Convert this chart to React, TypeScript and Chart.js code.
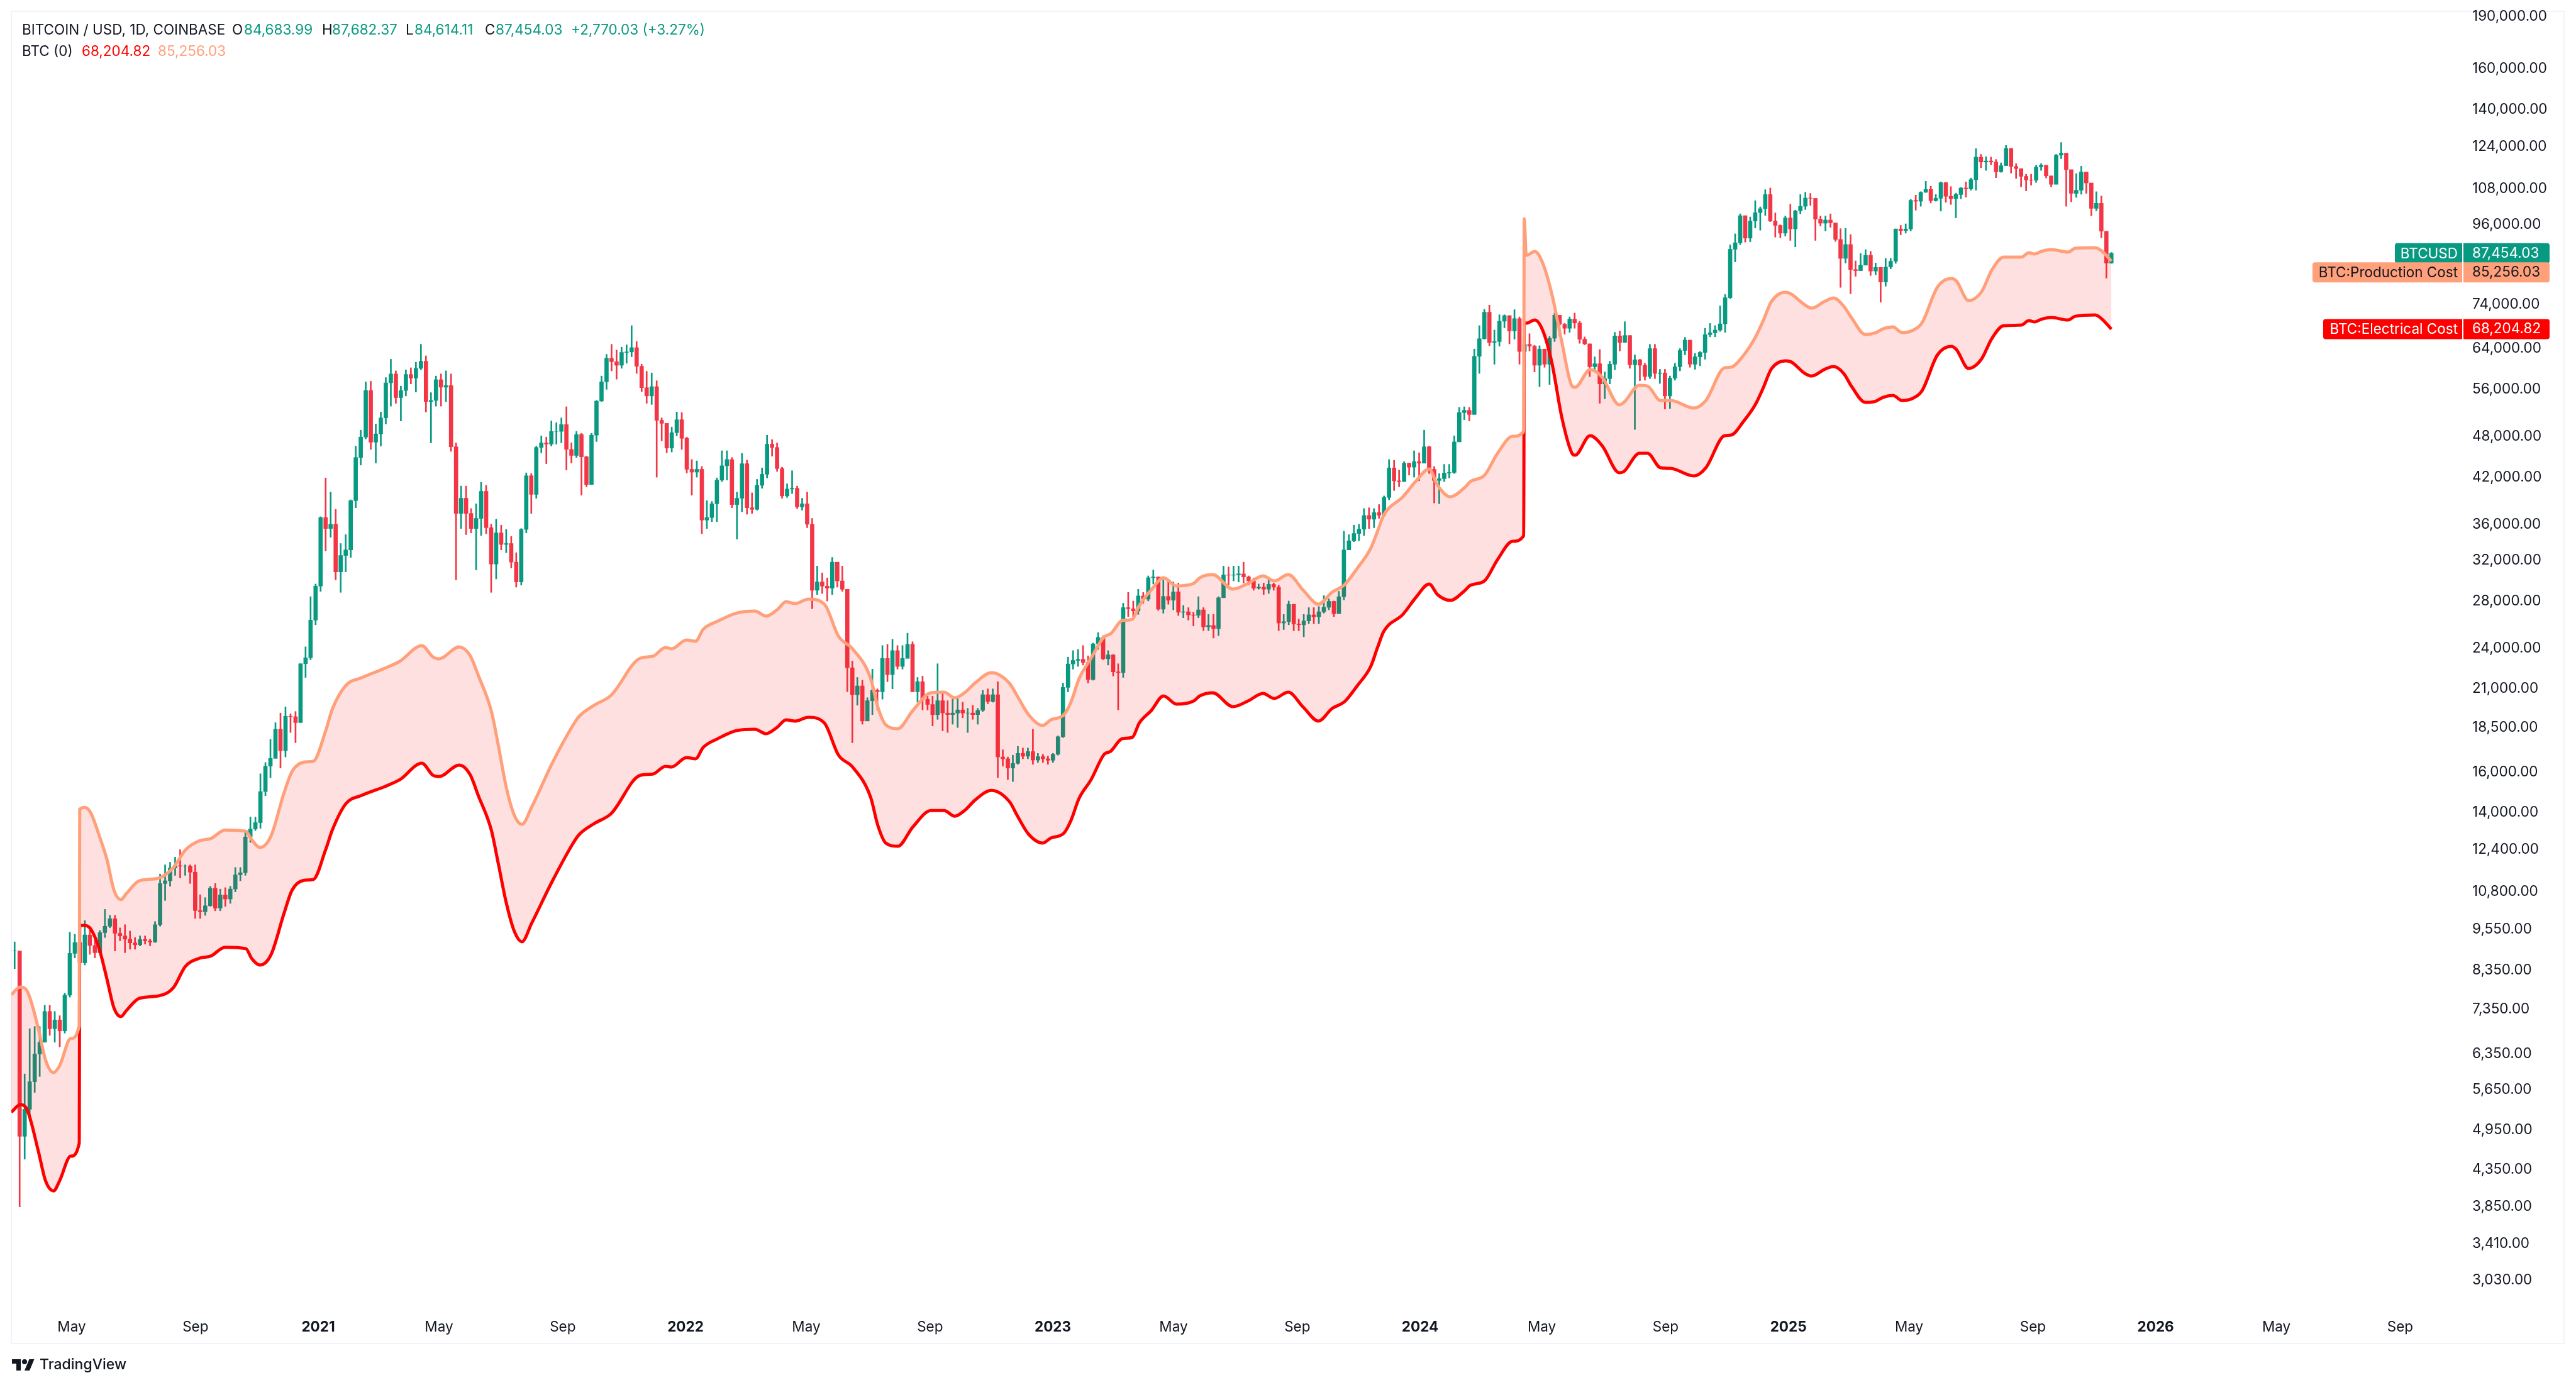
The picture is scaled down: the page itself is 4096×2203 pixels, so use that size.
import React, { useEffect, useRef } from 'react';
import { Chart, registerables } from 'chart.js';

Chart.register(...registerables);

const W = 4096;
const H = 2203;

// axis labels
const priceTicks = [190000, 160000, 140000, 124000, 108000, 96000, 74000, 64000, 56000, 48000, 42000, 36000, 32000, 28000, 24000, 21000, 18500, 16000, 14000, 12400, 10800, 9550, 8350, 7350, 6350, 5650, 4950, 4350, 3850, 3410, 3030];
const timeLabels = ['May', 'Sep', '2021', 'May', 'Sep', '2022', 'May', 'Sep', '2023', 'May', 'Sep', '2024', 'May', 'Sep', '2025', 'May', 'Sep', '2026', 'May', 'Sep'];
const timeDays = [60, 183, 305, 425, 548, 670, 790, 913, 1035, 1155, 1278, 1400, 1521, 1644, 1766, 1886, 2009, 2131, 2251, 2374];

// cost model lines (days since the left edge)
const lineDays = [0, 9, 16, 27, 34, 42, 48, 59, 67.5, 68, 73, 79, 87.5, 95, 102, 109, 114, 127, 146, 161, 173, 187.5, 198, 212.5, 233, 239, 247, 258, 271, 279, 292, 300, 312.5, 319, 332.5, 348, 371, 386, 408, 419, 425, 445, 456, 464, 477, 484, 492, 500, 507.5, 517, 537.5, 558, 564, 579, 596, 625, 637.5, 650, 656, 671, 680, 687.5, 702, 721, 739, 750, 761, 770, 779, 792, 808, 822, 836, 854, 861, 869, 881, 896, 914, 927, 937.5, 948, 958, 974, 992, 1000, 1011, 1025, 1033, 1046, 1053, 1061, 1073, 1086, 1092.5, 1104, 1114, 1121, 1133, 1145, 1158, 1175, 1181, 1194, 1214, 1229, 1244, 1255, 1269, 1284, 1299, 1312.5, 1325, 1337.5, 1351, 1357.5, 1364, 1383, 1396, 1409, 1417.5, 1430, 1444, 1450, 1464, 1477, 1492, 1503, 1503.5, 1505.5, 1514, 1522, 1531, 1541, 1551, 1554, 1569, 1581, 1598, 1602.5, 1618, 1626, 1639, 1649, 1672, 1684, 1702.5, 1709, 1722, 1733, 1741, 1749, 1763, 1768, 1782.5, 1789, 1802.5, 1811, 1821, 1829, 1842.5, 1853, 1860, 1870, 1879, 1889, 1899, 1914, 1928, 1933, 1945, 1958, 1968, 1980, 1997.5, 2005, 2011, 2017, 2027.5, 2044, 2051, 2071, 2078, 2087];
const electricalCost = [5248, 5380, 5280, 4610, 4193, 4057, 4193, 4544, 4744, 9678, 9678, 9559, 8950, 8121, 7386, 7177, 7311, 7618, 7681, 7890, 8462, 8695, 8749, 9006, 8968, 8677, 8497, 8785, 10065, 10859, 11222, 11245, 12415, 13225, 14419, 14812, 15246, 15594, 16459, 15820, 15755, 16358, 15853, 14812, 13225, 11840, 10402, 9481, 9173, 9738, 11176, 12646, 13016, 13500, 13952, 15820, 15886, 16291, 16258, 16767, 16699, 17329, 17836, 18321, 18396, 18132, 18510, 18972, 18896, 19130, 18779, 16905, 16258, 14720, 13445, 12673, 12543, 13362, 14097, 14097, 13837, 14126, 14599, 15058, 14509, 13837, 13043, 12673, 12883, 13089, 13639, 14660, 15594, 16940, 17116, 17836, 17909, 18779, 19568, 20517, 19974, 20180, 20517, 20728, 19809, 20180, 20684, 20350, 20769, 19768, 18896, 19689, 20139, 21208, 22601, 23992, 25358, 26808, 28345, 29597, 28580, 28056, 28934, 29475, 29901, 32068, 34047, 34684, 69546, 69546, 70273, 67860, 61088, 50972, 45416, 45135, 48111, 46554, 42608, 42783, 45416, 45416, 43314, 43224, 42172, 43314, 48111, 48211, 50546, 53220, 56262, 59846, 61474, 61345, 58991, 58502, 59846, 60341, 58991, 56494, 53661, 53882, 54552, 54890, 53993, 54328, 55801, 62628, 64460, 63795, 59968, 61861, 66069, 68980, 69122, 70122, 69838, 70413, 70848, 70273, 71140, 71432, 70413, 68204.82];
const productionCost = [7713, 7906, 7792, 6887, 6226, 5975, 6112, 6678, 6973, 14155, 14243, 13981, 12963, 12011, 10859, 10531, 10725, 11198, 11292, 11694, 12389, 12777, 12857, 13225, 13171, 12804, 12491, 12963, 14934, 16017, 16528, 16563, 18321, 19649, 21244, 21777, 22461, 22977, 24190, 23309, 23166, 24091, 23406, 21959, 19528, 17436, 15183, 13867, 13474, 14243, 16459, 18625, 19170, 19892, 20558, 23215, 23358, 24041, 23943, 24640, 24539, 25515, 26210, 26921, 27088, 26644, 27201, 27939, 27767, 28172, 27710, 24947, 23943, 21731, 19809, 18665, 18434, 19568, 20728, 20769, 20388, 20769, 21421, 22141, 21377, 20473, 19288, 18625, 18972, 19288, 20097, 21687, 23215, 24899, 25152, 26263, 26370, 27594, 29053, 30212, 29414, 29658, 30212, 30523, 29113, 29658, 30399, 29901, 30523, 28994, 27710, 28815, 29536, 31156, 33282, 35115, 37115, 39394, 41484, 43138, 40886, 39394, 40550, 41395, 42258, 45416, 48011, 48807, 97903, 86879, 87955, 84585, 76459, 65254, 56609, 56379, 59723, 58265, 53220, 53661, 56738, 56609, 53993, 53993, 52672, 53993, 60090, 60219, 62750, 66340, 70122, 74590, 76941, 76618, 73825, 73064, 74749, 75525, 73524, 70706, 67026, 67442, 68263, 68697, 67442, 67860, 69706, 78218, 80502, 79843, 74900, 77092, 82685, 86346, 86346, 87598, 87230, 87955, 88508, 87773, 88867, 89052, 87955, 85256.03];

// price bars, one for every five days
const firstCandleDay = -1.7;
const candleStep = 4.985;
const candleCloses = [
  8900, 8900, 4850, 5300, 5800, 6350, 6600, 7300, 6900, 7100, 6850, 7700, 8830, 9150, 8560, 9380, 9060, 8850, 9450, 9650, 9890, 9430, 9350, 9250, 9140, 9080, 9240, 9200, 9160, 9700, 11100, 11200, 11680, 11770, 11750, 11750, 11520, 10160, 10120, 10320, 10930, 10240, 10690, 10550, 10900, 11420, 11500, 12930, 13270, 13550, 15000, 16300, 16720, 18400, 17150, 19200, 19170, 18800, 22800, 23250, 26300, 29400,
  36800, 35500, 36000, 30800, 32500, 33100, 38900, 44800, 47900, 55800, 47100, 48400, 51000, 57200, 58900, 54500, 55800, 58800, 58100, 60000, 61400, 53800, 54000, 57800, 56400, 56700, 46400, 37300, 39200, 37300, 35500, 36700, 40100, 35600, 31600, 35000, 33700, 33800, 31800, 29800, 35400, 42200, 39700, 46300, 47000, 46800, 48800, 48800, 49900, 46000, 45100, 48300, 44900, 41000, 48200, 53900, 57400, 62000, 61300, 60600, 63200, 63300, 64200, 60400, 56300, 54800, 56500, 50600, 50100, 46200, 48600, 50700, 47700,
  43100, 42700, 43100, 36500, 36800, 38500, 41600, 43600, 44500, 38400, 39200, 43900, 38000, 37800, 40900, 42400, 46800, 46300, 43200, 39500, 40400, 40500, 38100, 38500, 36000, 29000, 29800, 29400, 29200, 31800, 29900, 29100, 22500, 20600, 21200, 18900, 20200, 20900, 20800, 23200, 22000, 23800, 22600, 23200, 24300, 20800, 21500, 20300, 19950, 19300, 20200, 19400, 19300, 19400, 19600, 19400, 19400, 19300, 19570, 20600, 20150, 20600, 16800, 16700, 16200, 16450, 17000, 16840, 17100, 16630, 16820, 16700, 16620,
  16950, 17950, 21100, 22780, 23050, 23130, 22900, 21650, 24330, 24850, 23170, 23470, 22200, 22150, 27400, 27300, 27100, 28470, 28170, 30220, 30300, 27260, 28420, 28070, 28850, 26990, 27030, 26750, 26720, 27200, 25730, 25850, 25580, 28300, 30500, 30470, 30500, 30600, 30300, 29900, 29200, 29300, 29100, 29570, 29300, 26050, 26170, 27700, 25970, 25900, 26230, 26760, 26580, 27030, 27430, 27970, 26860, 28400, 33100, 34100, 34930, 35430, 37050, 36600, 37400, 37080, 39300, 43300, 41500, 41400, 43970, 43400, 44200,
  43970, 46400, 43100, 41550, 41800, 42580, 42660, 47140, 51900, 52280, 51570, 62400, 66100, 72100, 65300, 65500, 70000, 71300, 67800, 70600, 63400, 64900, 64500, 60600, 63900, 60800, 66200, 71400, 69300, 68400, 70500, 69600, 66000, 65000, 60300, 60900, 57000, 58000, 60800, 66700, 65300, 66800, 60700, 61700, 60600, 58400, 64000, 59000, 59100, 54800, 58100, 60300, 63600, 65800, 60800, 62300, 63200, 67000, 67400, 68000, 69400, 75600, 88600, 90500, 98900, 91900, 97200, 99900, 101200, 106000, 97200, 95800, 93400,
  98200, 94700, 100500, 102000, 104800, 104700, 97800, 96500, 97500, 96600, 91500, 86000, 90000, 82900, 82600, 84100, 86900, 82500, 83500, 79600, 83600, 85200, 94700, 94200, 94700, 104000, 103700, 106800, 107800, 103900, 104700, 110200, 105400, 104600, 106000, 108300, 108000, 111300, 119800, 117900, 118300, 117900, 114200, 116500, 123300, 116200, 115400, 112500, 111200, 111100, 116000, 116700, 112700, 109600, 120600, 121400, 115000, 106400, 107500, 114100, 110100, 101300, 103000, 94000, 84683.99, 87454.03,
];
const candleHighs = [
  9190, 9170, 8000, 5950, 6900, 6950, 6950, 7450, 7450, 7300, 7200, 7750, 9460, 9400, 10060, 9830, 9600, 9320, 9520, 10200, 10000, 10000, 9600, 9700, 9500, 9300, 9350, 9350, 9250, 9800, 11450, 11800, 11900, 12100, 12400, 11800, 11800, 11800, 10700, 10600, 11000, 11100, 10900, 10950, 11000, 11700, 11700, 13200, 13800, 13800, 15900, 16500, 17800, 18800, 19400, 19800, 19350, 19500, 22800, 24100, 28400, 29600,
  36900, 41900, 40000, 37800, 33800, 34800, 39000, 46500, 49000, 57400, 57500, 50000, 52000, 58200, 61800, 59500, 56600, 59700, 60100, 61200, 64900, 62500, 55400, 58500, 58900, 59500, 58900, 47000, 40800, 40800, 37900, 38500, 41300, 40900, 36000, 36600, 35900, 35400, 34600, 32800, 35500, 42600, 42500, 46500, 48100, 47900, 50500, 50200, 51000, 52900, 47000, 48800, 48500, 45000, 48500, 54000, 58500, 62800, 64900, 63700, 64300, 64800, 69000, 65500, 60800, 59400, 59100, 57600, 51000, 50000, 49500, 52000, 51900,
  47900, 44500, 44300, 43500, 38900, 38800, 41900, 45800, 45800, 44800, 40000, 45400, 44400, 39900, 41700, 43300, 48200, 47500, 47000, 43400, 41100, 42900, 40800, 39200, 40000, 36700, 31400, 30700, 30200, 32300, 31700, 31400, 28500, 23000, 21800, 21600, 20400, 22400, 21000, 24200, 24300, 24700, 24200, 24200, 25200, 24500, 21800, 21900, 20500, 20500, 22800, 20800, 20200, 20300, 20400, 20100, 19700, 19900, 19700, 20900, 21000, 21000, 21500, 17200, 16800, 16900, 17400, 17300, 17300, 18400, 17000, 16950, 16850,
  17000, 18000, 21400, 23300, 23800, 23900, 24200, 23400, 24400, 25250, 25000, 23800, 23500, 22800, 27800, 28800, 28000, 29100, 28800, 30400, 31000, 30300, 30000, 29900, 29800, 29700, 27600, 27400, 27000, 28400, 27400, 26800, 26800, 28400, 31400, 31300, 31400, 31400, 31800, 30400, 30200, 29600, 29700, 30200, 29700, 29500, 26800, 28000, 27500, 26400, 26800, 27400, 27400, 27500, 28500, 28200, 28000, 28900, 35200, 34800, 35900, 36000, 37900, 38000, 37900, 38400, 39500, 44500, 44400, 43000, 44200, 44000, 45800,
  45500, 49000, 46500, 43500, 42500, 43800, 43800, 48100, 52800, 52900, 52800, 63900, 69000, 72800, 73800, 68000, 71500, 71500, 71300, 72700, 71000, 65500, 67200, 64700, 64600, 63500, 66600, 71900, 71000, 69500, 71000, 71900, 70000, 66500, 65000, 62300, 63800, 59300, 61400, 67500, 67800, 69900, 66800, 62700, 61800, 61000, 64900, 64900, 59800, 59800, 58500, 61000, 64000, 66400, 65000, 63000, 63400, 68400, 69500, 69000, 73600, 76400, 89900, 93200, 99500, 98900, 98500, 103900, 101800, 107700, 108300, 99800, 96000,
  98800, 102700, 100700, 106000, 106800, 106400, 102500, 98800, 98800, 99500, 96500, 94800, 94900, 93000, 85300, 87400, 88500, 88000, 84700, 83500, 86000, 86000, 94700, 95800, 96300, 104300, 105800, 107000, 110700, 108900, 106000, 110500, 110400, 108800, 106500, 108500, 110500, 111900, 123200, 120900, 120000, 119800, 118900, 117600, 124500, 118500, 117300, 113500, 113300, 113300, 116700, 117300, 115900, 112100, 120900, 125700, 116000, 113600, 113500, 116300, 111200, 106800, 107000, 105500, 93800, 87682.37,
];
const candleLows = [
  8500, 8400, 3850, 4500, 5100, 5600, 5900, 6600, 6750, 6600, 6500, 6800, 7650, 8700, 8100, 8500, 8800, 8700, 8900, 9300, 9600, 8900, 9200, 8850, 8950, 8950, 9050, 9100, 9050, 9150, 9650, 10500, 11000, 11400, 11300, 11400, 11100, 9900, 9900, 10000, 10300, 10150, 10150, 10300, 10400, 10800, 11200, 11400, 12700, 13200, 13300, 14800, 15700, 17000, 16200, 16800, 18200, 17600, 18900, 21800, 23100, 25900,
  28900, 33000, 34500, 30000, 28800, 30800, 32300, 38000, 43700, 47600, 46000, 44000, 46500, 50000, 53000, 53500, 50500, 54800, 57000, 55500, 59700, 52000, 47000, 53000, 53000, 53800, 45700, 30000, 35500, 34800, 35000, 31000, 34700, 34900, 28800, 30100, 33100, 32800, 31200, 29300, 29500, 35000, 37300, 39200, 45500, 43900, 46500, 46800, 47000, 43000, 44000, 44800, 39600, 40700, 41000, 47200, 53800, 56000, 59500, 57900, 60000, 61000, 62300, 59000, 55600, 53500, 53300, 42000, 47300, 45500, 45600, 48100, 46000,
  42600, 39600, 42000, 34900, 35500, 36300, 36300, 41400, 41600, 38000, 34300, 37500, 37200, 37300, 37700, 40500, 41900, 45000, 42800, 39200, 39300, 39800, 37900, 37700, 35600, 27300, 28600, 28700, 28000, 28600, 29300, 28900, 20800, 17600, 19900, 18700, 19000, 19300, 19600, 20300, 21500, 21000, 22400, 22400, 23700, 20800, 20100, 19600, 19600, 18600, 19000, 18300, 18200, 18700, 18500, 19100, 18200, 19000, 18700, 19500, 20000, 20100, 15700, 16300, 15600, 15500, 16400, 16700, 16700, 16400, 16500, 16500, 16400,
  16500, 16900, 17900, 20800, 22400, 22600, 22700, 21400, 21600, 23900, 23100, 22700, 21900, 19600, 21800, 26600, 26600, 26800, 27800, 28000, 29600, 27150, 26900, 27700, 27200, 26700, 26500, 26300, 25800, 26500, 25400, 25400, 24800, 25000, 28300, 29500, 29900, 29800, 29700, 29500, 29000, 29100, 28600, 28700, 29000, 25400, 25500, 25900, 25400, 25400, 24900, 26000, 26000, 26000, 26900, 27200, 26600, 26900, 28100, 33400, 34000, 34100, 34700, 35500, 35600, 36700, 37000, 39000, 40200, 40700, 41400, 42300, 42000,
  41500, 44300, 42500, 38600, 38500, 41400, 41900, 42500, 47500, 50700, 50500, 52000, 59000, 66000, 64600, 60800, 64500, 68500, 65000, 66000, 60800, 59700, 63500, 59300, 56500, 60200, 56900, 65500, 66700, 67100, 67500, 68400, 65100, 64800, 58400, 59800, 53500, 54300, 57000, 59700, 63500, 65300, 60000, 49100, 57600, 57700, 58000, 58000, 57100, 52500, 52600, 57700, 59500, 62700, 60200, 59800, 60500, 61800, 66500, 66500, 67700, 67500, 75400, 85000, 90000, 90700, 90800, 95000, 94300, 99000, 97000, 92200, 92000,
  92500, 91200, 89300, 99500, 100900, 102300, 91200, 95600, 94100, 95200, 90900, 78200, 84700, 76600, 81100, 83000, 85100, 81300, 81500, 74500, 78500, 83100, 84600, 92900, 93400, 94100, 100700, 102000, 106700, 103100, 103700, 100400, 103300, 102600, 98200, 104500, 105100, 107500, 107500, 115700, 114700, 116900, 112000, 114000, 116500, 113700, 111700, 108700, 107300, 109300, 110300, 114700, 111900, 108700, 111000, 119200, 102000, 103500, 105000, 106100, 106400, 98900, 100500, 92000, 80600, 84614.11,
];

const GREEN = '#089981';
const RED = '#f23645';
const ORANGE = '#ffa07a';
const DARK = '#131722';
const FONT = 'Inter';

const candleDay = (i: number) => firstCandleDay + i * candleStep;
const candleOpen = (i: number) => (i === 0 ? candleCloses[0] : candleCloses[i - 1]);
const candleColors = candleCloses.map((c, i) => (c >= candleOpen(i) ? GREEN : RED));

const fmt = (v: number) => v.toLocaleString('en-US', { minimumFractionDigits: 2, maximumFractionDigits: 2 });

// legend rows top left
const legendRows: [string, number, number, string][] = [
  ['BITCOIN / USD, 1D, COINBASE', 35, 48, DARK],
  ['O', 369, 48, DARK],
  ['84,683.99', 388, 48, GREEN],
  ['H', 512, 48, DARK],
  ['87,682.37', 528, 48, GREEN],
  ['L', 645, 48, DARK],
  ['84,614.11', 659, 48, GREEN],
  ['C', 771, 48, DARK],
  ['87,454.03', 788, 48, GREEN],
  ['+2,770.03 (+3.27%)', 908, 48, GREEN],
  ['BTC (0)', 35, 82, DARK],
  ['68,204.82', 130, 82, '#ff0000'],
  ['85,256.03', 251, 82, ORANGE],
];

// last value tags on the price axis: name, value, colour, text colour, left edge, shift
const priceTags: [string, number, string, string, number, number][] = [
  ['BTCUSD', 87454.03, GREEN, '#ffffff', 3808, 0],
  ['BTC:Production Cost', 85256.03, ORANGE, DARK, 3677, 18],
  ['BTC:Electrical Cost', 68204.82, '#ff0000', '#ffffff', 3694, 0],
];

const roundRect = (ctx: CanvasRenderingContext2D, x: number, y: number, w: number, h: number, r: [number, number, number, number]) => {
  ctx.beginPath();
  ctx.roundRect(x, y, w, h, r);
  ctx.fill();
};

const tvFrame = {
  id: 'tvFrame',
  beforeDraw(chart: Chart) {
    const ctx = chart.ctx;
    ctx.save();
    ctx.fillStyle = '#ffffff';
    ctx.fillRect(0, 0, W, H);
    ctx.strokeStyle = '#f0f3fa';
    ctx.lineWidth = 2;
    ctx.strokeRect(18, 18, 4059, 2119);
    ctx.restore();
  },
  afterDraw(chart: Chart) {
    const ctx = chart.ctx;
    const y = chart.scales.y;
    ctx.save();
    ctx.textBaseline = 'middle';
    ctx.font = `22.5px ${FONT}`;
    legendRows.forEach(([t, lx, ly, c]) => {
      ctx.fillStyle = c;
      ctx.fillText(t, lx, ly);
    });
    priceTags.forEach(([name, value, bg, fg, left, shift]) => {
      const cy = y.getPixelForValue(value) + shift;
      ctx.fillStyle = bg;
      roundRect(ctx, left, cy - 16, 3915 - left, 32, [4, 0, 0, 4]);
      roundRect(ctx, 3917, cy - 16, 137, 32, [0, 4, 4, 0]);
      ctx.fillStyle = fg;
      ctx.textAlign = 'right';
      ctx.fillText(name, 3908, cy + 1);
      ctx.textAlign = 'left';
      ctx.fillText(fmt(value), 3931, cy);
    });
    // TradingView mark
    ctx.save();
    ctx.translate(19, 2158);
    ctx.fillStyle = DARK;
    ctx.fill(new Path2D('M14 22H7V11H0V4h14v18zM28 22h-8l7.5-18h8L28 22z'));
    ctx.beginPath();
    ctx.arc(20, 8, 4, 0, Math.PI * 2);
    ctx.fill();
    ctx.restore();
    ctx.fillStyle = DARK;
    ctx.font = `500 23px ${FONT}`;
    ctx.fillText('TradingView', 63, 2171);
    ctx.restore();
  },
};

const App: React.FC = () => {
  const chartRef = useRef<HTMLCanvasElement>(null);
  const chartInstanceRef = useRef<Chart | null>(null);

  useEffect(() => {
    document.body.style.margin = '0';
    if (chartRef.current) {
      const ctx = chartRef.current.getContext('2d');
      if (ctx) {
        chartInstanceRef.current = new Chart(ctx, {
          type: 'bar',
          plugins: [tvFrame],
          data: {
            datasets: [
              {
                label: 'wicks',
                data: candleCloses.map((_, i) => ({ x: candleDay(i), y: [candleLows[i], candleHighs[i]] })),
                backgroundColor: candleColors,
                barThickness: 2,
                grouped: false,
                order: 4,
              },
              {
                label: 'bodies',
                data: candleCloses.map((c, i) => ({ x: candleDay(i), y: [candleOpen(i), c] })),
                backgroundColor: candleColors,
                barThickness: 6,
                grouped: false,
                order: 3,
              },
              {
                type: 'line',
                label: 'BTC:Electrical Cost',
                data: lineDays.map((d, i) => ({ x: d, y: electricalCost[i] })),
                borderColor: '#ff0000',
                borderWidth: 5,
                pointRadius: 0,
                cubicInterpolationMode: 'monotone',
                borderJoinStyle: 'round',
                fill: { target: '+1', above: 'rgba(255,0,0,0.12)', below: 'rgba(255,0,0,0.12)' },
                order: 2,
              },
              {
                type: 'line',
                label: 'BTC:Production Cost',
                data: lineDays.map((d, i) => ({ x: d, y: productionCost[i] })),
                borderColor: ORANGE,
                borderWidth: 5,
                pointRadius: 0,
                cubicInterpolationMode: 'monotone',
                borderJoinStyle: 'round',
                fill: false,
                order: 1,
              },
            ] as any,
          },
          options: {
            responsive: false,
            animation: false,
            devicePixelRatio: 1,
            events: [],
            layout: { padding: { left: 18, top: 18, right: 19, bottom: 63 } },
            plugins: { legend: { display: false }, tooltip: { enabled: false }, title: { display: false } },
            scales: {
              x: {
                type: 'linear',
                offset: false,
                min: 0,
                max: 2438.75,
                grid: { display: false, drawTicks: false },
                border: { display: false },
                afterBuildTicks: (s: any) => {
                  s.ticks = timeDays.map((value) => ({ value }));
                },
                afterFit: (s: any) => {
                  s.height = 60;
                  s.paddingLeft = 0;
                  s.paddingRight = 0;
                },
                ticks: {
                  autoSkip: false,
                  maxRotation: 0,
                  minRotation: 0,
                  padding: 18,
                  color: DARK,
                  callback: (_v: any, i: number) => timeLabels[i],
                  font: (c: any) => ({
                    family: FONT,
                    size: 22.5,
                    weight: /^\d/.test(timeLabels[c.index] ?? '') ? '700' : '400',
                  }),
                },
              },
              y: {
                type: 'logarithmic',
                position: 'right',
                min: 2767,
                max: 193155,
                grid: { display: false, drawTicks: false },
                border: { display: false },
                afterBuildTicks: (s: any) => {
                  s.ticks = priceTicks.map((value) => ({ value }));
                },
                afterFit: (s: any) => {
                  s.width = 157;
                  s.paddingTop = 0;
                  s.paddingBottom = 0;
                },
                ticks: {
                  autoSkip: false,
                  padding: 11,
                  color: DARK,
                  font: { family: FONT, size: 22.5 },
                  callback: (v: any) => fmt(Number(v)),
                },
              },
            },
          },
        });
      }
    }
    return () => {
      if (chartInstanceRef.current) {
        chartInstanceRef.current.destroy();
      }
    };
  }, []);

  return <canvas ref={chartRef} width={W} height={H} style={{ display: 'block' }}></canvas>;
};

export default App;
